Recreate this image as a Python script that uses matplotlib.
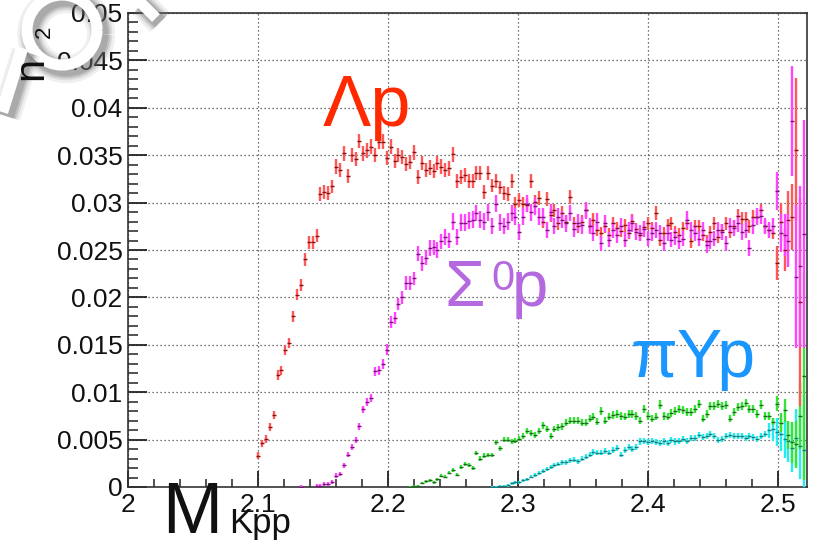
import numpy as np
import matplotlib
matplotlib.use("Agg")
import matplotlib.pyplot as plt
from matplotlib.patches import Arc
from matplotlib import patheffects as pe

plt.rcParams["font.family"] = ["Liberation Sans", "DejaVu Sans"]

# binning of the invariant-mass histograms (GeV)
BIN_START = 2.1
BIN_WIDTH = 0.003

# Lambda p channel
lam_start = 0
lam_p = [
    0.0033, 0.0046, 0.0051, 0.0063, 0.0076, 0.0118, 0.0123, 0.0145, 0.0152, 0.0180,
    0.0203, 0.0213, 0.0240, 0.0258, 0.0258, 0.0265, 0.0309, 0.0311, 0.0310, 0.0317,
    0.0338, 0.0334, 0.0352, 0.0328, 0.0350, 0.0346, 0.0365, 0.0352, 0.0355, 0.0359,
    0.0350, 0.0364, 0.0364, 0.0347, 0.0359,
    0.0344, 0.0350, 0.0348, 0.0341, 0.0343, 0.0353, 0.0327, 0.0342, 0.0334, 0.0337,
    0.0333, 0.0342, 0.0338, 0.0334, 0.0336, 0.0351, 0.0323, 0.0327, 0.0329, 0.0323,
    0.0323, 0.0331, 0.0331, 0.0311, 0.0331, 0.0318, 0.0323, 0.0316, 0.0310, 0.0309,
    0.0323, 0.0299, 0.0303, 0.0299,
    0.0297, 0.0323, 0.0301, 0.0305, 0.0280, 0.0304, 0.0287, 0.0292, 0.0278, 0.0289,
    0.0280, 0.0306, 0.0278, 0.0275, 0.0280, 0.0292, 0.0275, 0.0282, 0.0271, 0.0268,
    0.0275, 0.0266, 0.0278, 0.0273,
    0.0270, 0.0276, 0.0268, 0.0281, 0.0272, 0.0266, 0.0274,
    0.0278, 0.0273, 0.0289, 0.0261, 0.0268, 0.0276, 0.0278, 0.0269, 0.0266, 0.0273,
    0.0278, 0.0259, 0.0275, 0.0275, 0.0266, 0.0259, 0.0269, 0.0278, 0.0264, 0.0271,
    0.0278, 0.0269, 0.0275, 0.0286, 0.0283, 0.0283, 0.0275, 0.0285, 0.0285, 0.0292,
    0.0275, 0.0271, 0.0268,
    0.0236, 0.0280, 0.0250, 0.0282, 0.0285, 0.0356, 0.0195,
]
lam_tail_err = [0.0018, 0.0020, 0.0022, 0.0030, 0.0035, 0.0075, 0.0110]

# Sigma0 p channel
sig_start = 11
sig_p = [
    0.0, np.nan, np.nan, np.nan,
    0.0001, 0.0001, 0.0003, 0.0003, 0.0005, 0.0012, 0.0014, 0.0023, 0.0034, 0.0042,
    0.0050, 0.0064, 0.0082, 0.0090, 0.0094, 0.0122, 0.0123, 0.0130, 0.0145, 0.0174,
    0.0178, 0.0193, 0.0200, 0.0215, 0.0215, 0.0220, 0.0246, 0.0236, 0.0242, 0.0252,
    0.0253, 0.0250, 0.0259, 0.0264, 0.0260, 0.0280, 0.0264, 0.0279, 0.0279, 0.0281,
    0.0282, 0.0289, 0.0282, 0.0280, 0.0290, 0.0275, 0.0299, 0.0279, 0.0275, 0.0280,
    0.0289, 0.0285,
    0.0269, 0.0285, 0.0299, 0.0290, 0.0296, 0.0285, 0.0285, 0.0271, 0.0290, 0.0275,
    0.0285, 0.0282, 0.0278, 0.0289, 0.0272, 0.0279, 0.0276, 0.0292, 0.0275, 0.0268,
    0.0280, 0.0257, 0.0278, 0.0261, 0.0271, 0.0266, 0.0275, 0.0261, 0.0271, 0.0278,
    0.0269, 0.0268, 0.0272,
    0.0262, 0.0268, 0.0271, 0.0268, 0.0257, 0.0268, 0.0261, 0.0264, 0.0259, 0.0262,
    0.0282, 0.0271, 0.0268, 0.0262, 0.0271, 0.0255, 0.0259, 0.0262, 0.0271, 0.0269,
    0.0257, 0.0275, 0.0273, 0.0278, 0.0269, 0.0271, 0.0252, 0.0276, 0.0285, 0.0286,
    0.0275, 0.0271, 0.0275,
    0.0312, 0.0268, 0.0266, 0.0260, 0.0386, 0.0222, 0.0233, 0.0267,
]
sig_tail_err = [0.0020, 0.0020, 0.0022, 0.0028, 0.0058, 0.0075, 0.0085, 0.0120]

# pi Y p channel, first component
piy1_start = 39
piy1 = [
    0.0000, 0.0001, 0.0001, 0.0004, 0.0006, 0.0007, 0.0005, 0.0008, 0.0012, 0.0011,
    0.0015, 0.0018, 0.0013, 0.0021, 0.0024, 0.0023, 0.0020, 0.0036, 0.0030, 0.0033,
    0.0034, 0.0034, 0.0047, 0.0041, 0.0050, 0.0050, 0.0048, 0.0049, 0.0051, 0.0054,
    0.0059, 0.0057, 0.0055, 0.0059, 0.0065, 0.0061, 0.0054, 0.0061, 0.0063, 0.0064,
    0.0068, 0.0070, 0.0070, 0.0070, 0.0068, 0.0068, 0.0072, 0.0074, 0.0069, 0.0080,
    0.0070, 0.0074, 0.0076, 0.0077, 0.0075, 0.0074, 0.0077, 0.0077, 0.0075, 0.0070,
    0.0082, 0.0075, 0.0072, 0.0074, 0.0087, 0.0075, 0.0074, 0.0078, 0.0080, 0.0082,
    0.0081, 0.0079, 0.0079, 0.0082, 0.0088, 0.0072, 0.0077, 0.0085, 0.0085, 0.0088,
    0.0085, 0.0086, 0.0072, 0.0079, 0.0084, 0.0085, 0.0089, 0.0082, 0.0082, 0.0077,
    0.0087, 0.0075, 0.0075, 0.0069, 0.0088, 0.0068, 0.0081,
    0.0055, 0.0047, 0.0045, 0.0075, 0.0117,
]
piy1_tail_err = [0.0008, 0.0010, 0.0012, 0.0015, 0.0022, 0.0025, 0.0035, 0.0110]

# pi Y p channel, second component
piy2_start = 60
piy2 = [
    0.0000, 0.0000, 0.0001, 0.0001, 0.0002, 0.0004, 0.0005, 0.0005, 0.0007, 0.0008,
    0.0011, 0.0013, 0.0015, 0.0017, 0.0019, 0.0021, 0.0023, 0.0024, 0.0026, 0.0026,
    0.0028, 0.0029, 0.0027, 0.0030, 0.0032, 0.0034, 0.0037, 0.0036, 0.0036, 0.0038,
    0.0036, 0.0039, 0.0041, 0.0034, 0.0039, 0.0042, 0.0040, 0.0042, 0.0048, 0.0049,
    0.0047, 0.0049, 0.0047, 0.0046, 0.0048, 0.0046, 0.0050, 0.0048, 0.0049, 0.0051,
    0.0049, 0.0052, 0.0052, 0.0055, 0.0053, 0.0054, 0.0056, 0.0054, 0.0050, 0.0051,
    0.0054, 0.0055, 0.0054, 0.0054, 0.0054, 0.0052, 0.0054, 0.0053, 0.0051, 0.0054,
    0.0056, 0.0060, 0.0061, 0.0058, 0.0056, 0.0051, 0.0048, 0.0041, 0.0052, 0.0043,
    0.0039,
]
piy2_tail_err = [0.0008, 0.0012, 0.0015, 0.0018, 0.0020, 0.0022, 0.0025, 0.0030, 0.0035, 0.0058]

y_ticks = [0, 0.005, 0.01, 0.015, 0.02, 0.025, 0.03, 0.035, 0.04, 0.045, 0.05]
y_tick_labels = ["0", "0.005", "0.01", "0.015", "0.02", "0.025", "0.03", "0.035",
                 "0.04", "0.045", "0.05"]
x_ticks = [2.0, 2.1, 2.2, 2.3, 2.4, 2.5]
x_tick_labels = ["2", "2.1", "2.2", "2.3", "2.4", "2.5"]

W, H = 818, 558
fig = plt.figure(figsize=(W / 100, H / 100), dpi=100)
fig.patch.set_facecolor("white")


def px_axes(x0, y0, x1, y1):
    """Axes rectangle from pixel box (top-left origin)."""
    return [x0 / W, 1 - y1 / H, (x1 - x0) / W, (y1 - y0) / H]


ax = fig.add_axes(px_axes(128, 13, 807, 487))


def draw_hist(start, vals, tail_err, a, b, line_color, tick_color):
    vals = np.asarray(vals, dtype=float)
    x = BIN_START + BIN_WIDTH * (start + np.arange(len(vals)))
    err = a + b * np.nan_to_num(vals)
    err[-len(tail_err):] = tail_err
    ok = ~np.isnan(vals)
    ax.errorbar(x[ok], vals[ok], yerr=err[ok], fmt="none", ecolor=line_color,
                elinewidth=1.7, capsize=0, zorder=3)
    ax.plot(x[ok], vals[ok], ls="none", marker="_", ms=3.0, mew=1.0,
            color=tick_color, zorder=4)


draw_hist(piy2_start, piy2, piy2_tail_err, 0.00015, 0.035, "#22eef0", "#138080")
draw_hist(piy1_start, piy1, piy1_tail_err, 0.00012, 0.035, "#33e633", "#1a6a1a")
draw_hist(lam_start, lam_p, lam_tail_err, 0.00035, 0.012, "#ff5858", "#8a1010")
draw_hist(sig_start, sig_p, sig_tail_err, 0.0002, 0.024, "#ff45ff", "#7a107a")

ax.set_xlim(2.0, 2.5223)
ax.set_ylim(0, 0.05)
ax.set_xticks(x_ticks)
ax.set_xticklabels(x_tick_labels)
ax.set_yticks(y_ticks)
ax.set_yticklabels(y_tick_labels)
ax.set_xticks(np.arange(2.02, 2.52, 0.02), minor=True)
ax.set_yticks(np.arange(0.001, 0.05, 0.001), minor=True)
ax.tick_params(axis="both", which="both", direction="in", colors="#222222",
               labelsize=19, labelcolor="#111111")
ax.tick_params(axis="y", which="major", length=14, width=1.3, pad=4)
ax.tick_params(axis="y", which="minor", length=7, width=1.1)
ax.tick_params(axis="x", which="major", length=11.5, width=1.3, pad=4)
ax.tick_params(axis="x", which="minor", length=5.8, width=1.1)
ax.tick_params(right=False, top=False)
ax.grid(True, which="major", color="#444444", lw=0.9, ls=(0, (1, 2.2)))
ax.set_axisbelow(True)
for s in ax.spines.values():
    s.set_linewidth(1.2)
    s.set_color("#333333")

# overlay in pixel coordinates for labels and the stamp
ov = fig.add_axes([0, 0, 1, 1], zorder=10)
ov.set_xlim(0, W)
ov.set_ylim(H, 0)
ov.axis("off")
ov.patch.set_alpha(0)

# channel labels
ov.text(323, 126, "Λp", fontsize=52, color="#ff2a00", ha="left", va="baseline")
ov.text(444, 306, "Σ", fontsize=47, color="#b46ade", ha="left", va="baseline")
ov.text(491, 290, "0", fontsize=30, color="#b46ade", ha="left", va="baseline")
ov.text(512, 306, "p", fontsize=47, color="#b46ade", ha="left", va="baseline")
ov.text(630, 377, "πYp", fontsize=49, color="#1a96ff", ha="left", va="baseline")

# axis titles
ov.text(162, 533, "M", fontsize=52, color="#111111", ha="left", va="baseline")
ov.text(229, 533, "Kpp", fontsize=25, color="#111111", ha="left", va="baseline")
ov.text(31, 68, "n", fontsize=30, color="#111111", ha="center", va="center",
        rotation=90)
ov.text(44, 32, "2", fontsize=16, color="#111111", ha="center", va="center",
        rotation=90)


# stamp strokes in the upper-left corner, with a soft grey drop shadow
def soft_shadow(width):
    effects = []
    for k, a in [(6, 0.10), (4, 0.16), (2.5, 0.22), (1.2, 0.25)]:
        effects.append(pe.Stroke(linewidth=width + k * 2, foreground="#6a6a6a",
                                 alpha=a, offset=(3, -3)))
    effects.append(pe.Normal())
    return effects


ring = Arc((62, 30), 70, 70, angle=0, theta1=0, theta2=360, lw=8,
           color="white", path_effects=soft_shadow(8))
ov.add_patch(ring)
ov.plot([2, 22], [112, 48], color="white", lw=9, solid_capstyle="butt",
        path_effects=soft_shadow(9))
ov.plot([138, 156], [0, 18], color="white", lw=8, solid_capstyle="butt",
        path_effects=soft_shadow(8))

fig.savefig("out.png", dpi=100, facecolor="white")
